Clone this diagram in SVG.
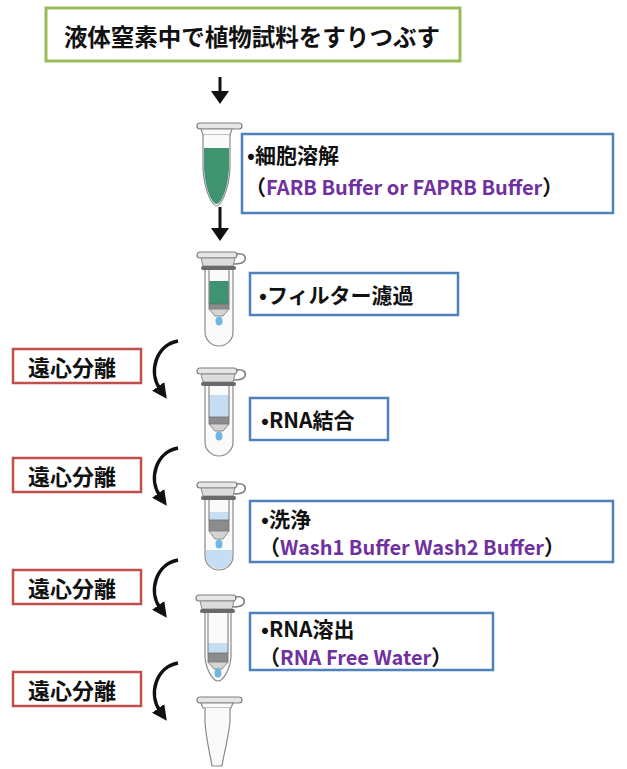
<svg xmlns="http://www.w3.org/2000/svg" width="627" height="769" viewBox="0 0 627 769">
  <style>
    .jp { font-family: "Noto Sans CJK JP", "Noto Sans", sans-serif; font-weight: bold; fill: #111; }
    .purple { fill: #7030a0; font-size: 20px; }
    .box-green { fill: #fff; stroke: #9bbb59; stroke-width: 3; }
    .box-blue { fill: #fff; stroke: #4f81bd; stroke-width: 2.5; }
    .box-red { fill: #fff; stroke: #c0504d; stroke-width: 2.5; }
    .edge { stroke: #111; stroke-width: 3; fill: none; }
    .curve { stroke: #111; stroke-width: 3.5; fill: none; marker-end: url(#curveHead); }
    .glass { fill: #fafafa; stroke: #8a8a8a; stroke-width: 1.2; }
    .lid { fill: #e6e6e6; stroke: #7f7f7f; stroke-width: 1.2; }
    .dome { fill: #dcdcdc; stroke: #8a8a8a; stroke-width: 1; }
    .ring { fill: #6a6a6a; }
    .hinge { fill: none; stroke: #7f7f7f; stroke-width: 1.6; }
    .wall { stroke: #8a8a8a; stroke-width: 1.2; fill: none; }
    .frit { fill: #8c8c8c; stroke: #6e6e6e; stroke-width: 0.8; }
    .funnel { fill: #d4d4d4; stroke: #8a8a8a; stroke-width: 1; }
    .drop { fill: #6fb7e3; }
    .blue-liquid { fill: #c6def3; }
    .green-liquid { fill: #3f9370; }
  </style>
  <defs>
    <marker id="curveHead" markerUnits="userSpaceOnUse" markerWidth="15" markerHeight="15" viewBox="0 0 14 14" refX="3" refY="7" orient="auto">
      <path d="M0,0 L14,7 L0,14 Z" fill="#111"/>
    </marker>
    <!-- spin-column cap with hinge, origin = tube centre / cap top -->
    <g id="spinCap">
      <rect class="lid" x="-22" y="0" width="40" height="6" rx="3"/>
      <path class="hinge" d="M17,2 C25,1 27,4 26,8 C25,11 20,12 15,12"/>
      <path class="dome" d="M-18,6 L16,6 L14,14 L-16,14 Z"/>
      <rect class="ring" x="-18" y="14" width="35" height="4" rx="2"/>
    </g>
  </defs>

  <!-- connectors -->
  <g id="connectors">
    <line class="edge" x1="220" y1="77" x2="220" y2="93"/>
    <polygon points="211,91 229,91 220,104" fill="#111"/>
    <line class="edge" x1="220" y1="207" x2="220" y2="229"/>
    <polygon points="211,228 229,228 220,241" fill="#111"/>
    <path class="curve" d="M178,341 C156,345 148,372 160,389"/>
    <path class="curve" d="M178,448 C156,452 148,479 160,496"/>
    <path class="curve" d="M178,560 C156,564 148,591 160,608"/>
    <path class="curve" d="M178,663 C156,667 148,694 160,711"/>
  </g>

  <!-- start step -->
  <g id="grind">
    <rect class="box-green" x="46" y="8" width="414" height="53"/>
    <text class="jp" x="252" y="46" font-size="23.5" text-anchor="middle">液体窒素中で植物試料をすりつぶす</text>
  </g>

  <!-- tube 1: lysate -->
  <g id="tube1">
    <rect class="lid" x="197" y="123" width="45" height="6" rx="3"/>
    <path class="glass" d="M201,129 L232,129 L230,135 L203,135 Z"/>
    <path class="glass" d="M203,135 L203,168 C204,188 211,205 216.5,206 C222,205 229,188 230,168 L230,135"/>
    <path class="green-liquid" d="M204,148 L229,148 L229,168 C228,187 222,203 216.5,204 C211,203 205,187 204,168 Z"/>
  </g>

  <!-- tube 2: filter column -->
  <g id="tube2" transform="translate(219,252)">
    <path class="glass" d="M-14,18 L-14,80 A14,14 0 0 0 14,80 L14,18"/>
    <rect class="green-liquid" x="-10" y="29" width="20" height="23"/>
    <line class="wall" x1="-10" y1="18" x2="-10" y2="52"/>
    <line class="wall" x1="10" y1="18" x2="10" y2="52"/>
    <rect class="frit" x="-10" y="52" width="20" height="5"/>
    <path class="funnel" d="M-10,57 L-4,64 L4,64 L10,57 Z"/>
    <ellipse class="drop" cx="0" cy="69" rx="3.5" ry="4.5"/>
    <use href="#spinCap"/>
  </g>

  <!-- tube 3: binding -->
  <g id="tube3" transform="translate(219,368)">
    <path class="glass" d="M-14,18 L-14,74 A14,14 0 0 0 14,74 L14,18"/>
    <rect class="blue-liquid" x="-10" y="27" width="20" height="22"/>
    <line class="wall" x1="-10" y1="18" x2="-10" y2="49"/>
    <line class="wall" x1="10" y1="18" x2="10" y2="49"/>
    <rect class="frit" x="-10" y="49" width="20" height="7"/>
    <path class="funnel" d="M-10,56 L-4,63 L4,63 L10,56 Z"/>
    <ellipse class="drop" cx="0" cy="68" rx="3.5" ry="4.5"/>
    <use href="#spinCap"/>
  </g>

  <!-- tube 4: wash -->
  <g id="tube4" transform="translate(219,482)">
    <path class="glass" d="M-14,18 L-14,74 A14,14 0 0 0 14,74 L14,18"/>
    <path class="blue-liquid" d="M-13,68 L13,68 L13,74 A13,13 0 0 1 -13,74 Z"/>
    <rect class="blue-liquid" x="-10" y="30" width="20" height="8"/>
    <line class="wall" x1="-10" y1="18" x2="-10" y2="38"/>
    <line class="wall" x1="10" y1="18" x2="10" y2="38"/>
    <rect class="frit" x="-10" y="38" width="20" height="11"/>
    <path class="funnel" d="M-10,49 L-4,57 L4,57 L10,49 Z"/>
    <ellipse class="drop" cx="0" cy="62" rx="3.5" ry="4.5"/>
    <use href="#spinCap"/>
  </g>

  <!-- tube 5: elution -->
  <g id="tube5" transform="translate(218,595)">
    <path class="glass" d="M-13,18 L-13,62 C-12,75 -5,86 0,86 C5,86 12,75 13,62 L13,18"/>
    <rect class="blue-liquid" x="-10" y="48" width="20" height="10"/>
    <line class="wall" x1="-10" y1="18" x2="-10" y2="58"/>
    <line class="wall" x1="10" y1="18" x2="10" y2="58"/>
    <rect class="frit" x="-10" y="58" width="20" height="9"/>
    <path class="funnel" d="M-10,67 L-4,74 L4,74 L10,67 Z"/>
    <ellipse class="drop" cx="0" cy="78" rx="3.5" ry="4.5"/>
    <use href="#spinCap"/>
  </g>

  <!-- tube 6: collected RNA -->
  <g id="tube6">
    <rect class="lid" x="197" y="697" width="45" height="6" rx="3"/>
    <path class="glass" d="M201,703 L233,703 L231,708 L203,708 Z"/>
    <path class="glass" d="M205,708 L205,722 C206,740 211,758 212,766 L222,766 C223,758 228,740 230,722 L230,708"/>
  </g>

  <!-- step labels -->
  <g id="lysis">
    <rect class="box-blue" x="242" y="134" width="371" height="79"/>
    <text class="jp" x="247" y="163" font-size="21">•細胞溶解</text>
    <text class="jp" x="245" y="195" font-size="21">（<tspan class="purple">FARB Buffer or FAPRB Buffer</tspan>）</text>
  </g>
  <g id="filter">
    <rect class="box-blue" x="250" y="273" width="208" height="42"/>
    <text class="jp" x="259" y="303" font-size="21">•フィルター濾過</text>
  </g>
  <g id="bind">
    <rect class="box-blue" x="250" y="398" width="138" height="42"/>
    <text class="jp" x="261" y="428" font-size="21">•RNA結合</text>
  </g>
  <g id="wash">
    <rect class="box-blue" x="250" y="501" width="363" height="61"/>
    <text class="jp" x="261" y="527" font-size="21">•洗浄</text>
    <text class="jp" x="259" y="555" font-size="21">（<tspan class="purple">Wash1 Buffer Wash2 Buffer</tspan>）</text>
  </g>
  <g id="elute">
    <rect class="box-blue" x="250" y="613" width="243" height="57"/>
    <text class="jp" x="261" y="637" font-size="21">•RNA溶出</text>
    <text class="jp" x="259" y="665" font-size="21">（<tspan class="purple">RNA Free Water</tspan>）</text>
  </g>

  <!-- centrifuge labels -->
  <g id="spin1">
    <rect class="box-red" x="13" y="349" width="128" height="34"/>
    <text class="jp" x="72" y="376" font-size="22" text-anchor="middle">遠心分離</text>
  </g>
  <g id="spin2">
    <rect class="box-red" x="13" y="458" width="128" height="34"/>
    <text class="jp" x="72" y="485" font-size="22" text-anchor="middle">遠心分離</text>
  </g>
  <g id="spin3">
    <rect class="box-red" x="13" y="570" width="128" height="34"/>
    <text class="jp" x="72" y="597" font-size="22" text-anchor="middle">遠心分離</text>
  </g>
  <g id="spin4">
    <rect class="box-red" x="13" y="672" width="128" height="34"/>
    <text class="jp" x="72" y="699" font-size="22" text-anchor="middle">遠心分離</text>
  </g>
</svg>
